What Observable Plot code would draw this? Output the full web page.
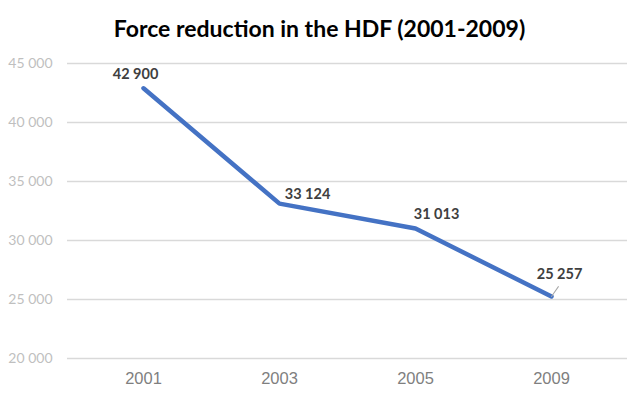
<!DOCTYPE html>
<html>
<head>
<meta charset="utf-8">
<script src="https://cdn.jsdelivr.net/npm/d3@7"></script>
<script src="https://cdn.jsdelivr.net/npm/@observablehq/plot@0.6"></script>
<style>
  html, body { margin: 0; padding: 0; background: #fff; }
  #title { height: 50px; width: 639px; display: flex; align-items: center; justify-content: center;
    font-family: Lato, "Open Sans", sans-serif; font-weight: bold; font-size: 23px; color: #000; padding-top: 5px; box-sizing: border-box; }
</style>
</head>
<body>
<div id="title">Force reduction in the HDF (2001-2009)</div>
<div id="chart"></div>
<script>
const years = ["2001", "2003", "2005", "2009"];
const personnel = [42900, 33124, 31013, 25257];
const yTicks = [20000, 25000, 30000, 35000, 40000, 45000];

const data = years.map((y, i) => ({year: y, value: personnel[i]}));
const fmt = d3.formatLocale({thousands: " ", grouping: [3], decimal: ","}).format(",");

const labelFont = {fontFamily: "Lato, 'Open Sans', sans-serif", fontWeight: "bold", fontSize: 14.5, fill: "#404040"};

const chart = Plot.plot({
  width: 639,
  height: 343,
  marginTop: 13,
  marginBottom: 35,
  marginLeft: 67,
  marginRight: 12,
  style: {fontFamily: "Lato, sans-serif", background: "#fff"},
  x: {type: "band", domain: years, label: null},
  y: {domain: [20000, 45000], label: null},
  marks: [
    Plot.gridY(yTicks, {stroke: "#d9d9d9", strokeOpacity: 1, strokeWidth: 1.3}),
    Plot.axisY(yTicks, {tickSize: 0, tickPadding: 15, tickFormat: fmt, fill: "#bfbfbf", fontSize: 14, label: null}),
    Plot.axisX({tickSize: 0, tickPadding: 14, fill: "#7f7f7f", fontSize: 16.5, fontFamily: "'Liberation Sans', Arial, sans-serif", label: null}),
    Plot.line(data, {x: "year", y: "value", stroke: "#4472C4", strokeWidth: 4.5, strokeLinecap: "round", strokeLinejoin: "round"}),
    Plot.vector(data.filter((d, i) => i === 3), {x: "year", y: "value", length: 12, rotate: 35, anchor: "start", stroke: "#a6a6a6", strokeWidth: 1,
      shape: {draw(ctx, l) { ctx.moveTo(0, 0); ctx.lineTo(0, -l); }}}),
    Plot.text(data.filter((d, i) => i === 0), {x: "year", y: "value", text: d => fmt(d.value), dx: -8, dy: -14, ...labelFont}),
    Plot.text(data.filter((d, i) => i === 1), {x: "year", y: "value", text: d => fmt(d.value), dx: 28, dy: -9, ...labelFont}),
    Plot.text(data.filter((d, i) => i === 2), {x: "year", y: "value", text: d => fmt(d.value), dx: 21, dy: -14, ...labelFont}),
    Plot.text(data.filter((d, i) => i === 3), {x: "year", y: "value", text: d => fmt(d.value), dx: 8, dy: -22, ...labelFont})
  ]
});
document.getElementById("chart").appendChild(chart);
</script>
</body>
</html>
